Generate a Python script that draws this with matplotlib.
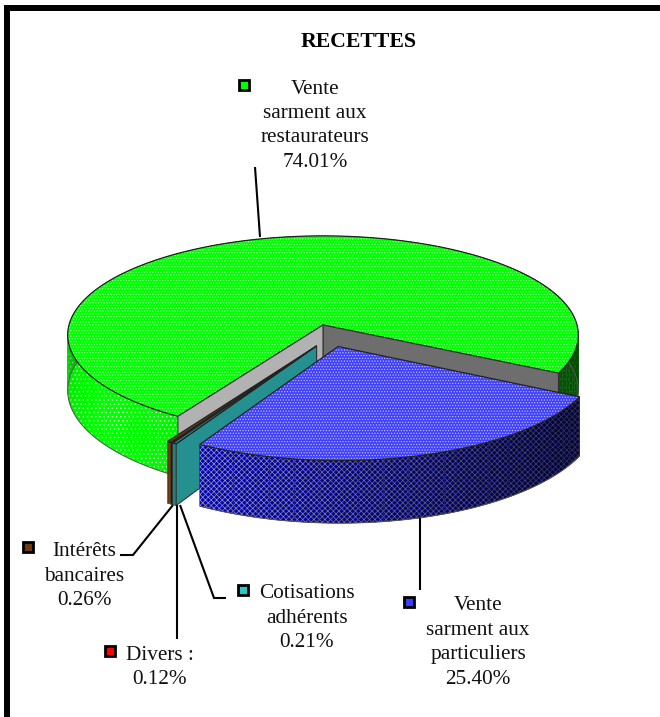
import matplotlib
matplotlib.use("Agg")
import matplotlib.pyplot as plt
import numpy as np
from matplotlib.patches import Polygon, Rectangle

plt.rcParams["font.family"] = ["Liberation Serif", "DejaVu Serif"]
plt.rcParams["hatch.linewidth"] = 0.55

# Data
title = "RECETTES"
categories = ["Vente\nsarment aux\nrestaurateurs", "Vente\nsarment aux\nparticuliers",
              "Cotisations\nadhérents", "Divers :", "Intérêts\nbancaires"]
shares = [74.01, 25.40, 0.21, 0.12, 0.26]

# Pie geometry, in pixels of the 660x717 figure
CX, CY = 323, 325
RX, RY = 254, 98
PERSP = 0.1
DEPTH = 55
START = 121.5  # where the green slice begins, degrees clockwise on screen

# explode offset in the pie plane, per slice
explode = [(0, 0), (0.058, 0.215), (-0.025, 0.21), (-0.025, 0.21), (-0.025, 0.21)]


def project(u, v):
    w = 1 - PERSP * v
    return CX + RX * u / w, CY + RY * v / w, DEPTH / w


def rim(a1, a2, off, n):
    th = np.radians(np.linspace(a1, a2, n))
    return project(np.cos(th) + off[0], np.sin(th) + off[1])


def shade(angle):
    # lighter towards the lower left, darker towards the right
    return 0.3 + 0.7 * ((np.cos(np.radians(angle - 140)) + 1) / 2) ** 2.5


def outer_wall(ax, a1, a2, off, base, hatch=None, hatch_col=(1, 1, 1)):
    n = max(int(abs(a2 - a1) / 2.5), 2)
    edges = np.linspace(a1, a2, n + 1)
    for e1, e2 in zip(edges[:-1], edges[1:]):
        x, y, d = rim(e1, e2, off, 5)
        pts = np.r_[np.c_[x, y], np.c_[x[::-1], (y + d)[::-1]]]
        f = shade((e1 + e2) / 2)
        col = tuple(c * f for c in base)
        ax.add_patch(Polygon(pts, closed=True, facecolor=col, edgecolor=col, lw=0.3))
        if hatch:
            ax.add_patch(Polygon(pts, closed=True, facecolor="none", lw=0, hatch=hatch,
                                 edgecolor=tuple(c * f for c in hatch_col)))
    x, y, d = rim(a1, a2, off, 200)
    ax.add_patch(Polygon(np.c_[x, y + d], closed=False, fill=False, edgecolor="#555555", lw=0.7))


def top_face(ax, a1, a2, off, color, hatch=None, hatch_col="white"):
    x, y, _ = rim(a1, a2, off, 300)
    x0, y0, _ = project(off[0], off[1])
    pts = np.r_[[[x0, y0]], np.c_[x, y]]
    ax.add_patch(Polygon(pts, closed=True, facecolor=color, edgecolor="none"))
    if hatch:
        ax.add_patch(Polygon(pts, closed=True, facecolor="none", edgecolor=hatch_col,
                             hatch=hatch, lw=0))
    ax.add_patch(Polygon(pts, closed=True, facecolor="none", edgecolor="#222222", lw=0.9))


def cut_face(ax, angle, off, color):
    xa, ya, da = project(off[0], off[1])
    xr, yr, dr = rim(angle, angle, off, 1)
    pts = [(xa, ya), (xr[0], yr[0]), (xr[0], yr[0] + dr[0]), (xa, ya + da)]
    ax.add_patch(Polygon(pts, closed=True, facecolor=color, edgecolor="#333333", lw=0.8))


bounds = START + np.r_[0, np.cumsum(shares)] * 3.6

fig = plt.figure(figsize=(6.6, 7.17), dpi=100)
ax = fig.add_axes([0, 0, 1, 1])
ax.set_xlim(0, 660)
ax.set_ylim(717, 0)
ax.axis("off")

# frame: only top and left are inside the crop
ax.add_patch(Rectangle((4, 5), 656, 6, color="black", lw=0))
ax.add_patch(Rectangle((4, 5), 6, 712, color="black", lw=0))

# green slice
outer_wall(ax, bounds[0], bounds[1], explode[0], (0.0, 1.0, 0.0), "....", (0.8, 1.0, 0.8))
top_face(ax, bounds[0], bounds[1], explode[0], "#00ff00", "......", "#a0ffa0")
cut_face(ax, bounds[1] - 360, explode[0], "#6e6e6e")
cut_face(ax, bounds[0], explode[0], "#b2b2b2")

# small slices, furthest first
small = [(4, "#6b3a10"), (3, "#301008"), (2, "#249090")]
for i, col in small:
    outer_wall(ax, bounds[i], bounds[i + 1], explode[i], matplotlib.colors.to_rgb(col))
    cut_face(ax, bounds[i], explode[i], col)
    top_face(ax, bounds[i], bounds[i + 1], explode[i], col)

# blue slice
outer_wall(ax, bounds[1], bounds[2], explode[1], (0.0, 0.0, 0.8), "xxxxxx", (0.62, 0.62, 0.68))
top_face(ax, bounds[1], bounds[2], explode[1], "#4040ff", "......", "#c0c0ff")

# title
ax.text(359, 42, title, ha="center", va="center", fontsize=15.7, fontweight="bold", color="black")

# labels: text, keys, leaders
fs = 15.3
labels = [
    (315, 89, (244, 85)),
    (478, 606, (409, 602)),
    (307, 594, (243, 590)),
    (160, 655, (110, 651)),
    (84, 552, (28, 547)),
]
key_cols = ["#00ff00", "#3c3cff", "#2cc8c8", "#ff0000", "#6b3a10"]
line_h = 24.4
for k, name in enumerate(categories):
    cx, y0, key = labels[k]
    lines = name.split("\n")
    for j, line in enumerate(lines):
        ax.text(cx, y0 + j * line_h, line, ha="center", va="center", fontsize=fs, color="#111111")
    ax.text(cx, y0 + len(lines) * line_h, f"{shares[k]:.2f}%", ha="center", va="center",
            fontsize=fs, color="#111111")
    ax.add_patch(Rectangle((key[0] - 5, key[1] - 5), 10, 10, facecolor=key_cols[k],
                           edgecolor="black", lw=2, zorder=5))

leaders = [
    ([255, 260], [167, 237]),
    ([420, 420], [518, 590]),
    ([226, 214, 180], [598, 598, 505]),
    ([177, 177], [505, 639]),
    ([120, 133, 173], [555, 555, 505]),
]
for lx, ly in leaders:
    ax.plot(lx, ly, color="black", lw=1.5, solid_capstyle="butt", solid_joinstyle="miter")

fig.savefig("out.png", dpi=100)
